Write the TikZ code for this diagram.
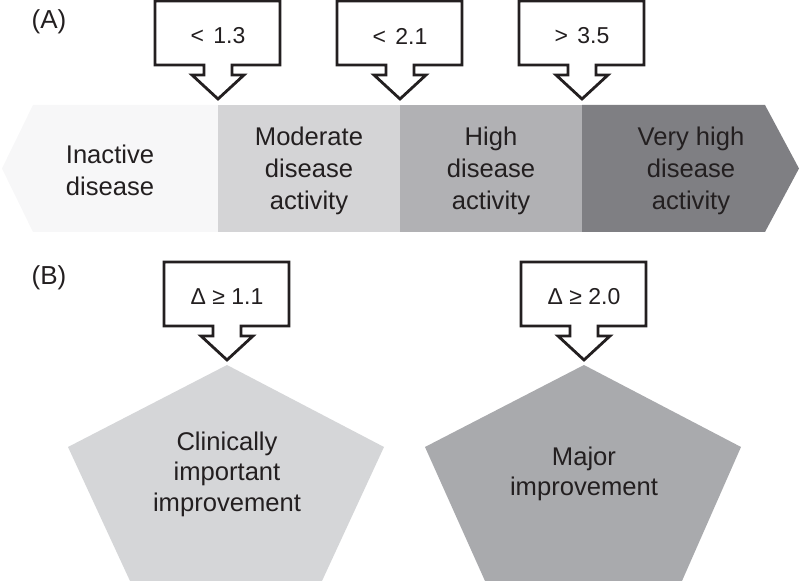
\documentclass[tikz,border=0pt]{standalone}
\usepackage{fontspec}
\setmainfont{Liberation Sans}
\definecolor{ink}{HTML}{231F20}
\definecolor{inactivegray}{HTML}{F7F7F8}
\definecolor{moderategray}{HTML}{D4D4D6}
\definecolor{highgray}{HTML}{B1B1B4}
\definecolor{veryhighgray}{HTML}{7F7F83}
\definecolor{clinicalgray}{HTML}{D5D6D8}
\definecolor{majorgray}{HTML}{A9AAAD}

\begin{document}
\begin{tikzpicture}[x=0.5pt,y=-0.5pt,line join=miter,
    callout/.style={draw=ink,fill=white,line width=1.4pt},
    bandtext/.style={font=\fontsize{12.8}{16}\selectfont,align=center,
      text=ink,inner sep=0pt},
    cuttext/.style={font=\fontsize{11.5}{12}\selectfont,text=ink,
      inner sep=0pt},
    panel/.style={font=\fontsize{13}{14}\selectfont,text=ink,inner sep=0pt}]
    \useasboundingbox (0,0) rectangle (800,581);

    % Panel letters.
    \node[panel] (panelA) at (49,22) {(A)};
    \node[panel] (panelB) at (49,278) {(B)};

    % The activity band, cut into four states.
    \fill[inactivegray] (2,168.5) -- (33,105) -- (218,105) -- (218,232)
      -- (33,232) -- cycle;
    \fill[moderategray] (218,105) rectangle (400,232);
    \fill[highgray] (400,105) rectangle (582,232);
    \fill[veryhighgray] (582,105) -- (765,105) -- (799,168.5)
      -- (765,232) -- (582,232) -- cycle;
    \node[bandtext] (inactive) at (110,170.5) {Inactive\\disease};
    \node[bandtext] (moderate) at (309,170.5) {Moderate\\disease\\activity};
    \node[bandtext] (high) at (491,170.5) {High\\disease\\activity};
    \node[bandtext] (veryhigh) at (691,170.5) {Very high\\disease\\activity};

    % The improvement pentagons.
    \fill[clinicalgray] (227,365) -- (384,447) -- (322,581) -- (130,581)
      -- (68,447) -- cycle;
    \fill[majorgray] (584,365) -- (741,447) -- (682,581) -- (485,581)
      -- (425,447) -- cycle;
    \node[bandtext,font=\fontsize{12.8}{15.3}\selectfont] (clinical)
      at (227,474) {Clinically\\important\\improvement};
    \node[bandtext,font=\fontsize{12.8}{15.3}\selectfont] (major)
      at (584,474) {Major\\improvement};

    % Cut-off callouts, each pointing at its tip.
    \foreach \tx/\ty/\cut/\nm in {218/99/<\hspace{1.5pt} 1.3/cutlow,
        400/99/<\hspace{1.5pt} 2.1/cutmid,582/99/>\hspace{1.5pt} 3.5/cuthigh,
        227/360/Δ ≥ 1.1/gainone,584/360/Δ ≥ 2.0/gaintwo}{
      \draw[callout] (\tx-63,\ty-98) -- (\tx+62,\ty-98) -- (\tx+62,\ty-34)
        -- (\tx+14,\ty-34) -- (\tx+14,\ty-24) -- (\tx+26,\ty-24) -- (\tx,\ty)
        -- (\tx-26,\ty-24) -- (\tx-14,\ty-24) -- (\tx-14,\ty-34)
        -- (\tx-63,\ty-34) -- cycle;
      \node[cuttext] (\nm) at (\tx,\ty-63) {\cut};
    }
  \end{tikzpicture}
\end{document}
